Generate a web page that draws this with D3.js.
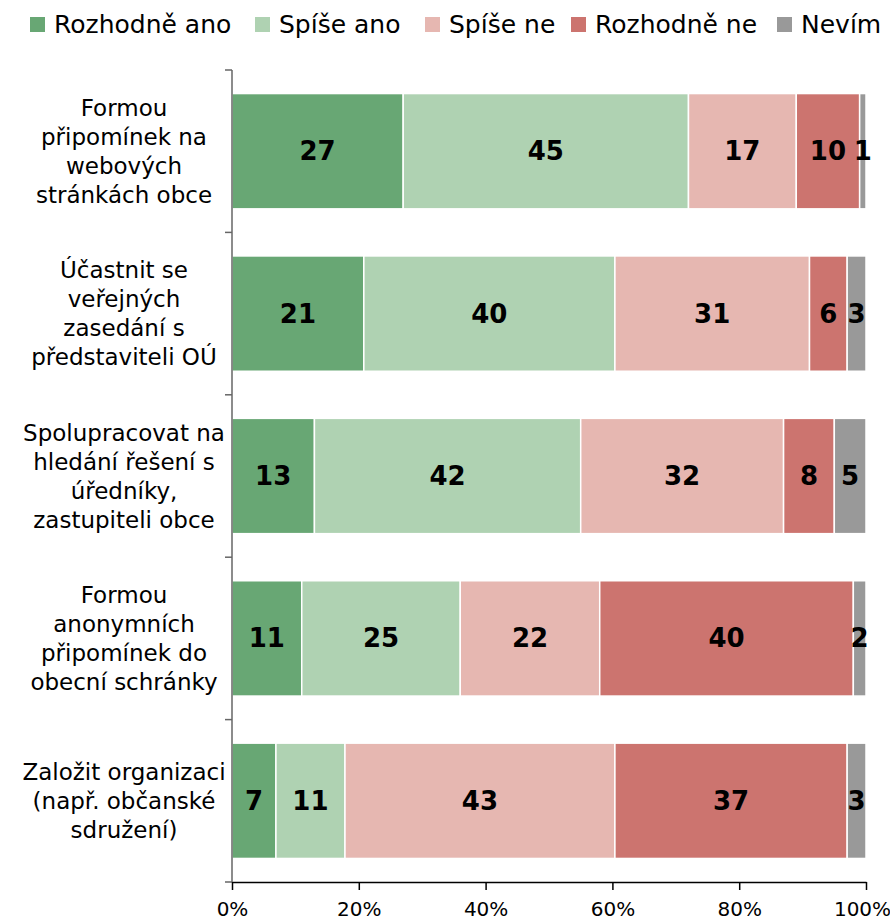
<!DOCTYPE html>
<html><head><meta charset="utf-8">
<script src="https://cdn.jsdelivr.net/npm/d3@7"></script>
<style>body{margin:0;background:#fff}svg{display:block}</style>
</head><body>
<svg id="chart" width="890" height="921"></svg>
<script>
const categories = [
  ["Formou", "připomínek na", "webových", "stránkách obce"],
  ["Účastnit se", "veřejných", "zasedání s", "představiteli OÚ"],
  ["Spolupracovat na", "hledání řešení s", "úředníky,", "zastupiteli obce"],
  ["Formou", "anonymních", "připomínek do", "obecní schránky"],
  ["Založit organizaci", "(např. občanské", "sdružení)"]
];
const seriesNames = ["Rozhodně ano", "Spíše ano", "Spíše ne", "Rozhodně ne", "Nevím"];
const rozhodneAno = [27, 21, 13, 11, 7];
const spiseAno    = [45, 40, 42, 25, 11];
const spiseNe     = [17, 31, 32, 22, 43];
const rozhodneNe  = [10, 6, 8, 40, 37];
const nevim       = [1, 3, 5, 2, 3];
const xTicks = [0, 0.2, 0.4, 0.6, 0.8, 1.0];
const colors = ["#68a774", "#afd2b2", "#e6b7b1", "#cc746f", "#999999"];

const seriesValues = [rozhodneAno, spiseAno, spiseNe, rozhodneNe, nevim];
const rows = categories.map((c, i) => {
  const o = {idx: i};
  seriesNames.forEach((s, j) => o[s] = seriesValues[j][i]);
  return o;
});

const svg = d3.select("#chart");
const pLeft = 232, pRight = 866, pTop = 70, pBottom = 882;
const x = d3.scaleLinear().domain([0, 1]).range([pLeft, pRight]);
const y = d3.scaleBand().domain(d3.range(categories.length)).range([pTop, pBottom])
  .paddingInner(0.29).paddingOuter(0.145);

const stack = d3.stack().keys(seriesNames).offset(d3.stackOffsetExpand);
const stacked = stack(rows);

const g = svg.append("g");
stacked.forEach((layer, j) => {
  g.selectAll(null).data(layer).enter().append("rect")
    .attr("x", d => x(d[0]))
    .attr("y", d => y(d.data.idx))
    .attr("width", d => x(d[1]) - x(d[0]))
    .attr("height", y.bandwidth())
    .attr("fill", colors[j])
    .attr("stroke", "#fff").attr("stroke-width", 1.5);
});
stacked.forEach((layer, j) => {
  g.selectAll(null).data(layer).enter().append("text")
    .attr("x", d => (x(d[0]) + x(d[1])) / 2)
    .attr("y", d => y(d.data.idx) + y.bandwidth() / 2)
    .attr("text-anchor", "middle").attr("dominant-baseline", "central")
    .attr("font-family", "DejaVu Sans").attr("font-weight", "bold")
    .attr("font-size", 26).attr("fill", "#000")
    .text(d => d.data[seriesNames[j]]);
});

// Y axis
const step = y.step();
svg.append("line").attr("x1", pLeft).attr("x2", pLeft).attr("y1", pTop).attr("y2", pBottom)
  .attr("stroke", "#666").attr("stroke-width", 1.5);
d3.range(categories.length + 1).forEach(i => {
  const yy = pTop + i * step;
  svg.append("line").attr("x1", pLeft - 7).attr("x2", pLeft).attr("y1", yy).attr("y2", yy)
    .attr("stroke", "#666").attr("stroke-width", 1.5);
});
// category labels
categories.forEach((lines, i) => {
  const cy = y(i) + y.bandwidth() / 2;
  const lh = 29;
  const t = svg.append("text").attr("text-anchor", "middle")
    .attr("font-family", "DejaVu Sans").attr("font-size", 23).attr("fill", "#000");
  lines.forEach((l, k) => {
    t.append("tspan").attr("x", 124)
      .attr("y", cy + (k - (lines.length - 1) / 2) * lh)
      .attr("dominant-baseline", "central").text(l);
  });
});

// X axis
const xAxis = svg.append("g").attr("transform", `translate(0,${pBottom})`)
  .call(d3.axisBottom(x).tickValues(xTicks).tickFormat(d3.format(".0%")).tickSize(8).tickSizeOuter(0));
xAxis.select(".domain").attr("stroke", "#000").attr("stroke-width", 1.5);
xAxis.selectAll(".tick line").attr("stroke", "#000").attr("stroke-width", 1.5);
xAxis.selectAll(".tick text").attr("font-family", "DejaVu Sans").attr("font-size", 20)
  .attr("fill", "#000").attr("dy", null).attr("y", 27).attr("dominant-baseline", "central");
xAxis.selectAll(".tick text").filter(d => d === 1).attr("x", -4);

// Legend
const legendX = [30, 255, 425, 571, 777];
seriesNames.forEach((s, j) => {
  svg.append("rect").attr("x", legendX[j]).attr("y", 17).attr("width", 15).attr("height", 15)
    .attr("fill", colors[j]);
  svg.append("text").attr("x", legendX[j] + 24).attr("y", 24.5)
    .attr("dominant-baseline", "central")
    .attr("font-family", "DejaVu Sans").attr("font-size", 25).attr("fill", "#000").text(s);
});
</script>
</body></html>
